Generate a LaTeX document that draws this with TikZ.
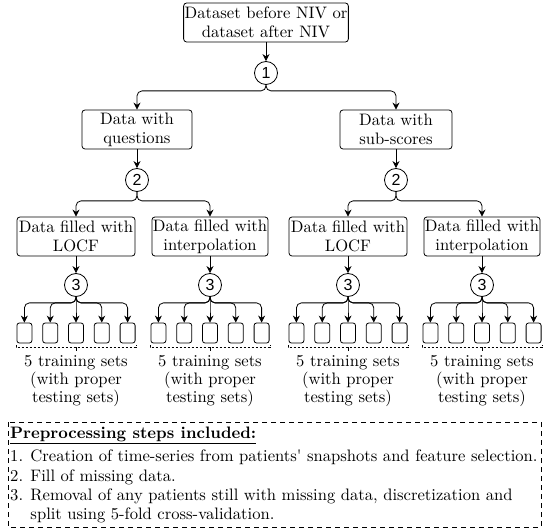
\documentclass[tikz,border=0pt]{standalone}
\usepackage{fontspec}
\setmainfont{lmroman10-regular.otf}[BoldFont=lmroman10-bold.otf, ItalicFont=lmroman10-italic.otf, BoldItalicFont=lmroman10-bolditalic.otf]
\newfontfamily\numfont{Liberation Sans}
\usetikzlibrary{arrows.meta}
\tikzset{
  box/.style={draw, rounded corners=3pt, line width=0.8pt, align=center, inner sep=1pt,
    minimum height=39pt, font=\fontsize{16.6}{19}\selectfont},
  num/.style={draw, circle, line width=0.8pt, minimum size=23pt, inner sep=0pt, font=\numfont\fontsize{16}{16}\selectfont},
  sbox/.style={draw, rounded corners=2.5pt, line width=0.8pt, minimum width=15pt, minimum height=20pt, inner sep=0pt},
  arr/.style={-{Stealth[length=7pt,width=7pt]}, line width=0.8pt},
  branch/.style={arr, rounded corners=5pt},
  lbl/.style={align=center, inner sep=0pt, font=\fontsize{16.6}{18}\selectfont},
  steptxt/.style={anchor=west, inner sep=0pt, font=\fontsize{16.6}{19}\selectfont},
  brk/.style={dashed, dash pattern=on 2.5pt off 1.5pt, line width=0.6pt},
}
\begin{document}
\begin{tikzpicture}[x=1pt,y=-1pt]
\useasboundingbox (0,0) rectangle (549,529);
\node[box, minimum width=162pt] (top) at (266,22.5) {Dataset before NIV or\\dataset after NIV};
\node[num] (c1) at (266,73) {1};
\node[box, minimum width=110pt] (q) at (137,129.5) {Data with\\questions};
\node[box, minimum width=112pt] (s) at (396,129.5) {Data with\\sub-scores};
\node[num] (c2a) at (137,180) {2};
\node[num] (c2b) at (396,180) {2};
\node[box, minimum width=118pt] (l1) at (76,236.5) {Data filled with\\LOCF};
\node[box, minimum width=114pt] (i1) at (210,236.5) {Data filled with\\interpolation};
\node[box, minimum width=118pt] (l2) at (348,236.5) {Data filled with\\LOCF};
\node[box, minimum width=115pt] (i2) at (482,236.5) {Data filled with\\interpolation};
\draw[arr] (top) -- (c1);
\draw[branch] (c1.south) -- ++(0,6) -| (q.north);
\draw[branch] (c1.south) -- ++(0,6) -| (s.north);
\draw[arr] (q) -- (c2a);
\draw[arr] (s) -- (c2b);
\draw[branch] (c2a.south) -- ++(0,9) -| (l1.north);
\draw[branch] (c2a.south) -- ++(0,9) -| (i1.north);
\draw[branch] (c2b.south) -- ++(0,9) -| (l2.north);
\draw[branch] (c2b.south) -- ++(0,9) -| (i2.north);
\foreach \g/\x in {l1/76, i1/210, l2/348, i2/482}{
  \node[num] (\g c) at (\x,285) {3};
  \draw[arr] (\g) -- (\g c);
  \foreach \k/\d in {1/-51.6, 2/-25.8, 3/0, 4/25.8, 5/51.6}{
    \node[sbox] (\g s\k) at (\x+\d,333) {};
    \draw[branch] (\g c.south) -- ++(0,6) -| (\g s\k.north);
  }
  \coordinate (\g bl) at (\x-60,345);
  \coordinate (\g br) at (\x+60,345);
  \draw[brk] (\g bl) -- ++(0,2.5) -| (\g br);
  \draw[line width=0.6pt] (\x,347.5) -- (\x,351);
  \node[lbl] (\g t) at (\x,381) {5 training sets\\(with proper\\testing sets)};
}
\draw[dashed, dash pattern=on 5pt off 4pt, line width=0.8pt] (8,422) rectangle (541,527);
\node[steptxt] (h) at (10,435) {\underline{\textbf{Preprocessing steps included:}}};
\node[steptxt] (p1) at (10,457) {1. Creation of time-series from patients\textquotesingle{} snapshots and feature selection.};
\node[steptxt] (p2) at (10,477) {2. Fill of missing data.};
\node[steptxt] (p3) at (10,496) {3. Removal of any patients still with missing data, discretization and};
\node[steptxt] (p4) at (10,515) {\phantom{3. }split using 5-fold cross-validation.};
\end{tikzpicture}
\end{document}
